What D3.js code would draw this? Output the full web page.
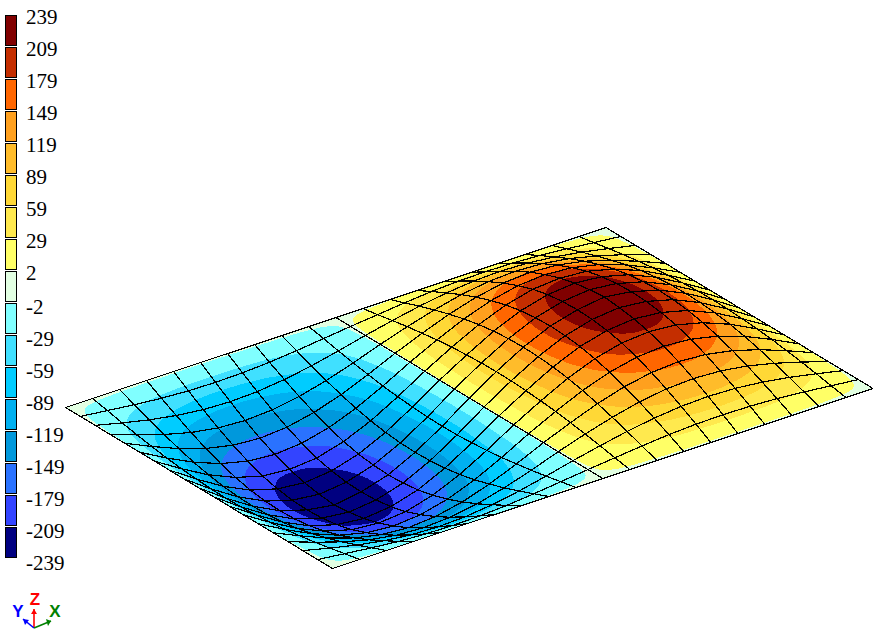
<!DOCTYPE html>
<html><head><meta charset="utf-8">
<script src="https://cdn.jsdelivr.net/npm/d3@7"></script>
<style>html,body{margin:0;padding:0;background:#fff;overflow:hidden}svg{display:block}</style>
</head><body><svg id="c" width="885" height="639"></svg>
<script>
const legendLabels = ["239","209","179","149","119","89","59","29","2","-2","-29","-59","-89","-119","-149","-179","-209","-239"];
const bandLevels = [209,179,149,119,89,59,29,2,-2,-29,-59,-89,-119,-149,-179,-209];
const bandColors = ["#800000","#C42E00","#FF6600","#FFA01E","#FFBC2A","#FFD836","#FFE94E","#FFFF66","#E2FFE2","#80FFFF","#40E0FF","#00CCFF","#00B0F0","#0098DC","#2A72FF","#3344FF","#000080"];
// nodal displacement: rows run back from the front-left edge, columns run along the long side
const plateRows = [
[0,0,0,0,0,0,0,0,0,0,0,0,0,0,0,0,0,0,0,0,0],
[0,-12,-24,-34,-40,-42,-40,-34,-24,-12,0,12,24,34,40,42,40,34,24,12,0],
[0,-25,-48,-66,-78,-82,-78,-66,-48,-25,0,25,48,66,78,82,78,66,48,25,0],
[0,-37,-70,-97,-114,-120,-114,-97,-70,-37,0,37,70,97,114,120,114,97,70,37,0],
[0,-47,-90,-124,-146,-154,-146,-124,-90,-47,0,47,90,124,146,154,146,124,90,47,0],
[0,-57,-108,-148,-173,-182,-173,-148,-108,-57,0,57,108,148,173,182,173,148,108,57,0],
[0,-64,-122,-167,-196,-205,-196,-167,-122,-64,0,64,122,167,196,205,196,167,122,64,0],
[0,-69,-132,-181,-211,-222,-211,-181,-132,-69,0,69,132,181,211,222,211,181,132,69,0],
[0,-73,-138,-189,-220,-232,-220,-189,-138,-73,0,73,138,189,220,232,220,189,138,73,0],
[0,-74,-140,-192,-223,-239,-223,-192,-140,-74,0,74,140,192,223,239,223,192,140,74,0],
[0,-73,-138,-189,-220,-232,-220,-189,-138,-73,0,73,138,189,220,232,220,189,138,73,0],
[0,-69,-132,-181,-211,-222,-211,-181,-132,-69,0,69,132,181,211,222,211,181,132,69,0],
[0,-64,-122,-167,-196,-205,-196,-167,-122,-64,0,64,122,167,196,205,196,167,122,64,0],
[0,-57,-108,-148,-173,-182,-173,-148,-108,-57,0,57,108,148,173,182,173,148,108,57,0],
[0,-47,-90,-124,-146,-154,-146,-124,-90,-47,0,47,90,124,146,154,146,124,90,47,0],
[0,-37,-70,-97,-114,-120,-114,-97,-70,-37,0,37,70,97,114,120,114,97,70,37,0],
[0,-25,-48,-66,-78,-82,-78,-66,-48,-25,0,25,48,66,78,82,78,66,48,25,0],
[0,-12,-24,-34,-40,-42,-40,-34,-24,-12,0,12,24,34,40,42,40,34,24,12,0],
[0,0,0,0,0,0,0,0,0,0,0,0,0,0,0,0,0,0,0,0,0]
];

const svg = d3.select("#c");
const nI = plateRows[0].length, nJ = plateRows.length;
// oblique projection of the plate
const origin = {x:332.5, y:568.5};
const sxU = d3.scaleLinear([0,nI-1],[0,540.5]), syU = d3.scaleLinear([0,nI-1],[0,-180]);
const sxV = d3.scaleLinear([0,nJ-1],[0,-267]),  syV = d3.scaleLinear([0,nJ-1],[0,-161]);
const zPx = d3.scaleLinear([-239,0,239],[62,0,-56]);
const clamp = (a,lo,hi)=>Math.max(lo,Math.min(hi,a));
function nodeZ(i,j){return plateRows[clamp(j,0,nJ-1)][clamp(i,0,nI-1)];}
function bilinear(gi,gj){
  const i=Math.min(Math.floor(gi),nI-2), j=Math.min(Math.floor(gj),nJ-2), s=gi-i, t=gj-j;
  return (1-t)*((1-s)*nodeZ(i,j)+s*nodeZ(i+1,j))+t*((1-s)*nodeZ(i,j+1)+s*nodeZ(i+1,j+1));
}
function project(gi,gj,z){return [origin.x+sxU(gi)+sxV(gj), origin.y+syU(gi)+syV(gj)+zPx(z)];}
function cr(a,b,c,d,t){return 0.5*((2*b)+(-a+c)*t+(2*a-5*b+4*c-d)*t*t+(-a+3*b-3*c+d)*t*t*t);}
function smooth(gi,gj){
  const i=Math.min(Math.floor(gi),nI-2), j=Math.min(Math.floor(gj),nJ-2), s=gi-i, t=gj-j, r=[];
  for(let m=-1;m<=2;m++) r.push(cr(nodeZ(i-1,j+m),nodeZ(i,j+m),nodeZ(i+1,j+m),nodeZ(i+2,j+m),s));
  return cr(r[0],r[1],r[2],r[3],t);
}
// colour bands on a finer sampling of the nodal grid
const f=8, W=(nI-1)*f+1, H=(nJ-1)*f+1, field=new Float64Array(W*H);
for(let y=0;y<H;y++)for(let x=0;x<W;x++)field[y*W+x]=smooth(x/f,y/f);
const levelsUp=[-1000].concat(bandLevels.slice().reverse()), colorsUp=bandColors.slice().reverse();
const contours=d3.contours().size([W,H]).thresholds(levelsUp)(field);
const gBands=svg.append("g").attr("shape-rendering","crispEdges");
contours.forEach((c,k)=>{
  const d=c.coordinates.map(poly=>poly.map(ring=>"M"+ring.map(p=>{
    const gi=clamp((p[0]-.5)/f,0,nI-1), gj=clamp((p[1]-.5)/f,0,nJ-1);
    return project(gi,gj,bilinear(gi,gj)).map(v=>v.toFixed(1)).join(",");
  }).join("L")+"Z").join("")).join("");
  gBands.append("path").attr("d",d).attr("fill",colorsUp[k]).attr("fill-rule","evenodd").attr("stroke","none");
});
// mesh
const line=d3.line();
const gMesh=svg.append("g").attr("fill","none").attr("stroke","#000").attr("stroke-width",1.2).attr("shape-rendering","crispEdges");
d3.range(nJ).forEach(j=>gMesh.append("path").attr("d",line(d3.range(nI).map(i=>project(i,j,nodeZ(i,j))))));
d3.range(nI).forEach(i=>gMesh.append("path").attr("d",line(d3.range(nJ).map(j=>project(i,j,nodeZ(i,j))))));
// legend
const yLegend=d3.scaleLinear([0,legendLabels.length-1],[15,559]);
const yLabel=d3.scaleLinear([0,8,9,17],[24,280,314,570]);
const gLeg=svg.append("g");
bandColors.forEach((col,k)=>gLeg.append("rect").attr("x",5.5).attr("y",yLegend(k)+.5).attr("width",11).attr("height",30).attr("fill",col).attr("stroke","#000").attr("shape-rendering","crispEdges"));
legendLabels.forEach((t,k)=>gLeg.append("text").attr("x",26).attr("y",Math.round(yLabel(k))).attr("font-family","'Liberation Serif',serif").attr("font-size",21).attr("fill","#000").text(t));
// axis triad
const triad=svg.append("g").attr("font-family","'Liberation Sans',sans-serif").attr("font-weight","bold").attr("font-size",17).attr("text-anchor","middle");
const axes=[
 {n:"Z",c:"#FF0000",tip:[34,609],lab:[35,605],head:[[31,614],[37,614]]},
 {n:"Y",c:"#0000FF",tip:[23,619],lab:[18,617],head:[[29,620],[25,625]]},
 {n:"X",c:"#008000",tip:[51,621],lab:[55,617],head:[[46,619],[48,626]]}
];
axes.forEach(a=>{
  triad.append("line").attr("x1",34).attr("y1",628).attr("x2",a.tip[0]).attr("y2",a.tip[1]).attr("stroke",a.c).attr("stroke-width",1.6);
  triad.append("polygon").attr("points",[a.tip,...a.head].map(p=>p.join(",")).join(" ")).attr("fill",a.c);
  triad.append("text").attr("x",a.lab[0]).attr("y",a.lab[1]).attr("fill",a.c).text(a.n);
});
</script></body></html>
